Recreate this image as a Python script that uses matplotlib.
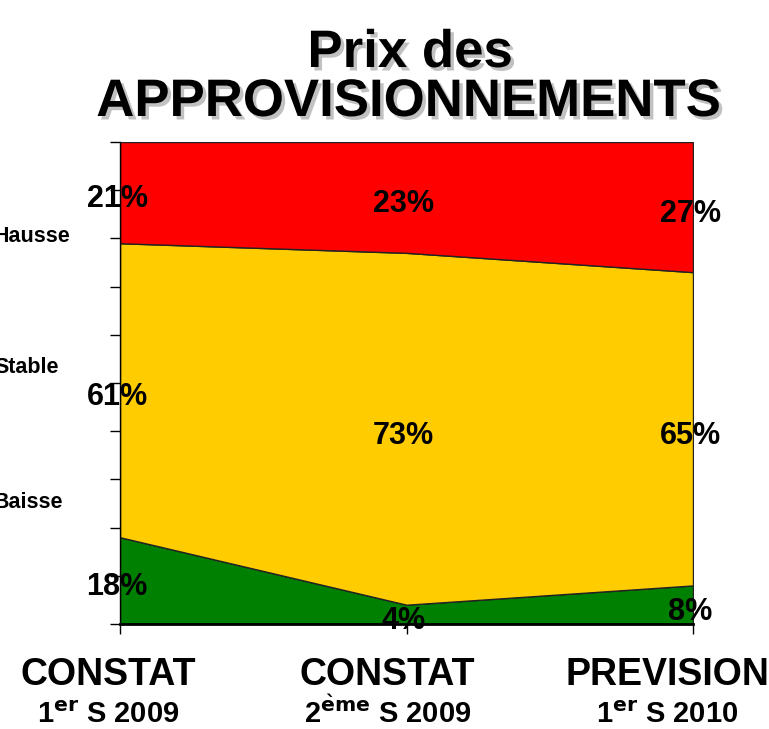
import matplotlib.pyplot as plt
import matplotlib.patheffects as pe
import numpy as np

# Data (percent of answers)
line1 = ['CONSTAT', 'CONSTAT', 'PREVISION']
line2 = [r'1$^{\mathbf{er}}$ S 2009', r'2$^{\mathbf{\grave{e}me}}$ S 2009', r'1$^{\mathbf{er}}$ S 2010']
baisse = [18, 4, 8]
stable = [61, 73, 65]
hausse = [21, 23, 27]
series_names = ['Baisse', 'Stable', 'Hausse']
colors = ['#008000', '#FFCC00', '#FF0000']

plt.rcParams['font.family'] = ['Liberation Sans', 'DejaVu Sans']
plt.rcParams['font.weight'] = 'bold'

fig = plt.figure(figsize=(7.69, 7.29), dpi=100)
ax = fig.add_axes([120 / 769, 1 - 624 / 729, 573 / 769, 482 / 729])

x = np.arange(len(line1))
layers = [np.array(baisse), np.array(stable), np.array(hausse)]
bottom = np.zeros(len(x))
for vals, col in zip(layers, colors):
    top = bottom + vals
    ax.fill_between(x, bottom, top, facecolor=col, edgecolor='#222222', linewidth=1.0)
    # value labels at middle of each band
    for xi, b, v in zip(x, bottom, vals):
        ax.text(xi - 0.01, b + v / 2 - 0.7, f'{v}%', ha='center', va='center_baseline',
                fontsize=22, fontweight='bold', color='black', clip_on=False)
    bottom = top

ax.set_xlim(0, 2)
ax.set_ylim(0, 100)
ax.set_yticks(np.arange(0, 101, 10))
ax.set_yticklabels([])
ax.set_xticks(x)
ax.set_xticklabels([])
ax.tick_params(axis='y', direction='out', length=7, width=1)
ax.tick_params(axis='x', direction='out', length=7, width=1)
for s in ['top', 'right']:
    ax.spines[s].set_visible(False)
ax.spines['left'].set_linewidth(1)
ax.spines['bottom'].set_linewidth(2)

# x category labels (two lines, with superscripts), slightly left of the ticks
for xi, l1, l2 in zip(x, line1, line2):
    xl = xi * 0.976 - 0.042
    xf = ax.transData.transform((xl, 0))[0] / fig.bbox.width
    fig.text(xf, 1 - 685 / 729, l1, ha='center', va='baseline', fontsize=27, fontweight='bold')
    fig.text(xf, 1 - 723 / 729, l2, ha='center', va='baseline', fontsize=21, fontweight='bold')

# series names on the left, partly cut by the figure edge
name_y = [503, 368, 237]
for name, yp in zip(series_names, name_y):
    fig.text(-6 / 769, 1 - yp / 729, name, ha='left', va='center', fontsize=15.5, fontweight='bold')

# title with drop shadow
shadow = [pe.withSimplePatchShadow(offset=(2.5, -2.5), shadow_rgbFace='#999999', alpha=0.6)]
fig.text(410 / 769, 1 - 67 / 729, 'Prix des', ha='center', va='baseline', fontsize=38,
         fontweight='bold', path_effects=shadow)
fig.text(408 / 769, 1 - 116 / 729, 'APPROVISIONNEMENTS', ha='center', va='baseline', fontsize=38,
         fontweight='bold', path_effects=shadow)

fig.savefig('out.png', dpi=100)
